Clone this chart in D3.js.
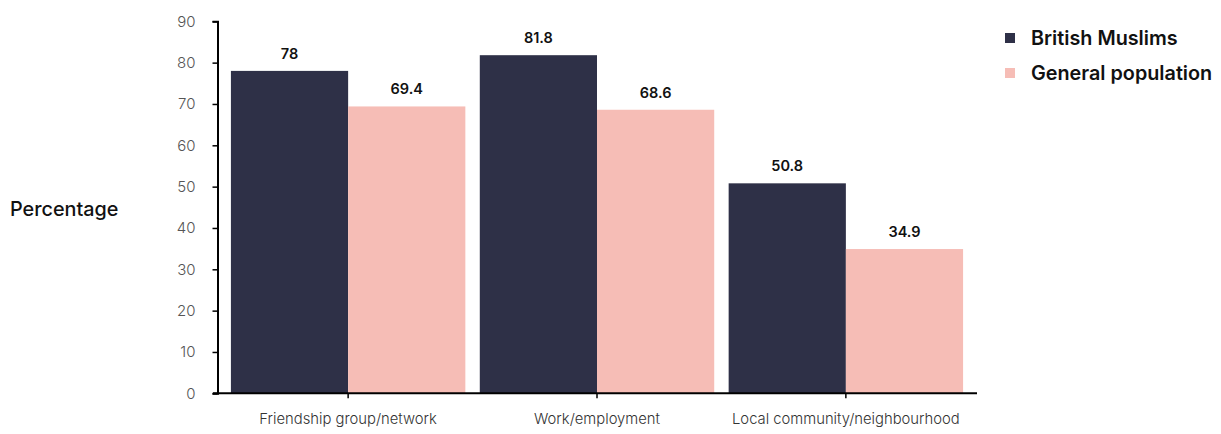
<!DOCTYPE html>
<html>
<head>
<meta charset="utf-8">
<script src="https://cdn.jsdelivr.net/npm/d3@7"></script>
<style>
  html, body { margin: 0; padding: 0; background: #fff; }
  svg { display: block; font-family: Inter, "Noto Sans", sans-serif; }
</style>
</head>
<body>
<svg id="chart" width="1221" height="434"></svg>
<script>
const categories = ["Friendship group/network", "Work/employment", "Local community/neighbourhood"];
const seriesNames = ["British Muslims", "General population"];
const britishMuslims = [78, 81.8, 50.8];
const generalPopulation = [69.4, 68.6, 34.9];
const yTicks = [0, 10, 20, 30, 40, 50, 60, 70, 80, 90];
const colors = ["#2e3047", "#f6bdb6"];

const svg = d3.select("#chart");
const seriesValues = [britishMuslims, generalPopulation];

const x0 = d3.scaleBand().domain(categories).range([213, 981]).paddingInner(0.058).paddingOuter(0.072);
const x1 = d3.scaleBand().domain(seriesNames).range([0, x0.bandwidth()]).padding(0);
const y = d3.scaleLinear().domain([0, 90]).range([393.3, 21.3]);

// Bars
const groups = svg.append("g").selectAll("g")
  .data(categories).join("g")
  .attr("transform", d => `translate(${x0(d)},0)`);

groups.selectAll("rect")
  .data((d, i) => seriesNames.map((s, j) => ({ s, v: seriesValues[j][i], j })))
  .join("rect")
  .attr("x", d => x1(d.s))
  .attr("y", d => y(d.v))
  .attr("width", x1.bandwidth())
  .attr("height", d => y(0) - y(d.v))
  .attr("fill", d => colors[d.j]);

groups.selectAll("text.val")
  .data((d, i) => seriesNames.map((s, j) => ({ s, v: seriesValues[j][i], j })))
  .join("text")
  .attr("class", "val")
  .attr("x", d => x1(d.s) + x1.bandwidth() / 2)
  .attr("y", d => y(d.v) - 12)
  .attr("text-anchor", "middle")
  .attr("font-size", 14.5)
  .attr("font-weight", 600)
  .attr("fill", "#111")
  .text(d => d.v);

// Y axis
const yAxis = svg.append("g")
  .attr("transform", "translate(217.5,0)")
  .call(d3.axisLeft(y).tickValues(yTicks).tickSize(5).tickPadding(17));
yAxis.select(".domain").attr("stroke", "#000").attr("stroke-width", 2);
yAxis.selectAll(".tick line").attr("stroke", "#000").attr("stroke-width", 1.5);
yAxis.selectAll(".tick text").attr("font-size", 15).attr("fill", "#555").attr("font-family", "Inter, sans-serif").attr("font-weight", 300);

// X axis
const xAxis = svg.append("g")
  .attr("transform", "translate(0,393.3)")
  .call(d3.axisBottom(x0).tickSize(5).tickPadding(15).tickSizeOuter(0));
xAxis.select(".domain").attr("d", "M213,0H977").attr("stroke", "#000").attr("stroke-width", 2);
xAxis.selectAll(".tick line").attr("stroke", "#000").attr("stroke-width", 1.5);
xAxis.selectAll(".tick text").attr("font-size", 14.8).attr("fill", "#333").attr("font-family", "Inter, sans-serif").attr("font-weight", 300);

// Y title
svg.append("text")
  .attr("x", 10).attr("y", 216)
  .attr("font-size", 19.8).attr("font-weight", 500).attr("fill", "#111")
  .text("Percentage");

// Legend
const legend = svg.append("g").selectAll("g")
  .data(seriesNames).join("g")
  .attr("transform", (d, i) => `translate(1005,${38 + i * 35})`);
legend.append("rect")
  .attr("x", 0).attr("y", -5).attr("width", 10).attr("height", 10)
  .attr("fill", (d, i) => colors[i]);
legend.append("text")
  .attr("x", 26).attr("y", 0).attr("dy", "0.35em")
  .attr("font-size", 19.8).attr("font-weight", 600).attr("fill", "#111")
  .text(d => d);
</script>
</body>
</html>
